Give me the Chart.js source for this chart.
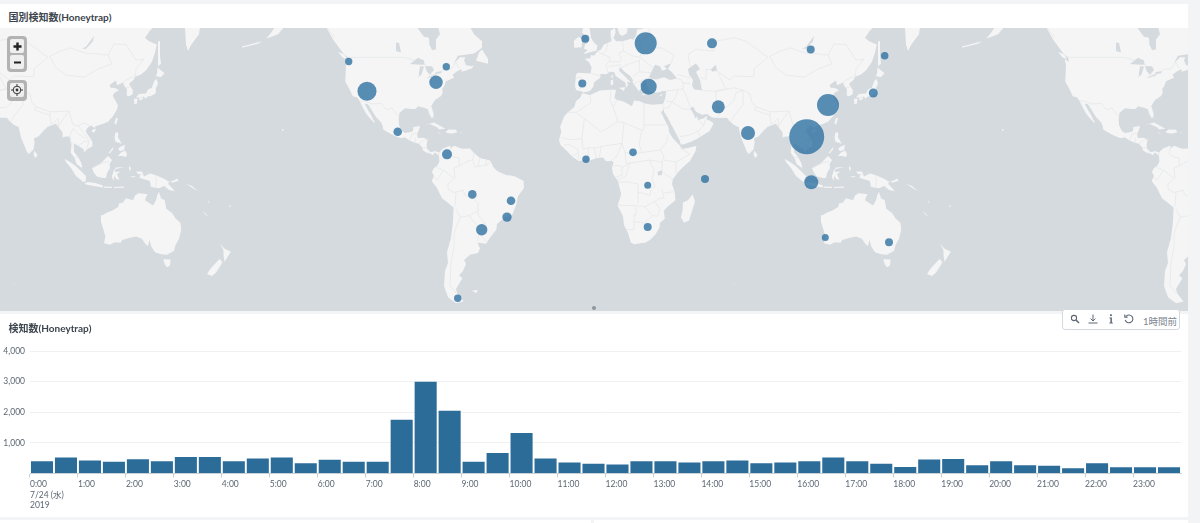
<!DOCTYPE html>
<html lang="ja">
<head>
<meta charset="utf-8">
<title>Honeytrap</title>
<script src="https://cdn.jsdelivr.net/npm/chart.js@4/dist/chart.umd.min.js"></script>
<style>
  html, body { margin: 0; padding: 0; width: 1200px; height: 523px; overflow: hidden; background: #f2f4f5; }
  body { position: relative; font-family: Lato, "Noto Sans CJK JP", sans-serif; color: #3c444d; }
  .panel { position: absolute; background: #fff; }
  .title { position: absolute; left: 8.5px; font-size: 10px; font-weight: 700; line-height: 14px; color: #3c444d; white-space: nowrap; }
  canvas { position: absolute; display: block; }
  .mapctl { position: absolute; left: 7px; width: 20px; box-sizing: border-box; border: 3px solid #b3b3b3; border-radius: 4px; background: #b3b3b3; }
  .mapctl div { height: 14px; margin-bottom: 2px; background: #efefef; border-radius: 2px; display: flex; align-items: center; justify-content: center; }
  .mapctl div:last-child { margin-bottom: 0; }
  #centerDot { position: absolute; left: 592px; top: 305.5px; width: 4px; height: 4px; border-radius: 50%; background: #8f979e; }
  #toolbar { position: absolute; left: 1062px; top: 309px; width: 118px; height: 21px; box-sizing: border-box; background: #fff; border: 1px solid #d3d9de; border-radius: 3px; }
  #toolbar svg { position: absolute; top: 3.5px; }
  #toolbar span { position: absolute; left: 80px; top: 5px; font-size: 9.5px; line-height: 13px; color: #7c8791; white-space: nowrap; }
</style>
</head>
<body>
<div class="panel" style="left:0;top:4px;width:1188px;height:24px"></div>
<div class="title" style="top:10px">国別検知数(Honeytrap)</div>
<canvas id="mapChart" width="1188" height="283" style="left:0;top:28px"></canvas>
<div class="panel" style="left:0;top:314px;width:1188px;height:203px"></div>
<div class="panel" style="left:0;top:520px;width:591px;height:3px"></div>
<div class="panel" style="left:594px;top:520px;width:594px;height:3px"></div>
<canvas id="barChart" width="1188" height="203" style="left:0;top:314px"></canvas>
<div class="title" style="top:321px">検知数(Honeytrap)</div>

<div class="mapctl" style="top:36px;height:36px">
  <div><svg width="9" height="9"><path d="M3.3 0.5h2.4v2.8h2.8v2.4H5.7v2.8H3.3V5.7H0.5V3.3h2.8z" fill="#222"/></svg></div>
  <div><svg width="9" height="9"><rect x="1" y="3.5" width="7" height="2" fill="#222"/></svg></div>
</div>
<div class="mapctl" style="top:80px;height:21px">
  <div><svg width="12" height="12" fill="none" stroke="#333"><circle cx="6" cy="6" r="3.8"/><circle cx="6" cy="6" r="1.4" fill="#333" stroke="none"/><path d="M6 0v2M6 10v2M0 6h2M10 6h2"/></svg></div>
</div>
<div id="centerDot"></div>
<div id="toolbar">
  <svg style="left:7px" width="10" height="10" fill="none" stroke="#5c6773" stroke-width="1.1"><circle cx="4" cy="4" r="2.6"/><path d="M6 6l3 3" stroke-width="1.5"/></svg>
  <svg style="left:25px" width="10" height="10" fill="none" stroke="#5c6773" stroke-width="1"><path d="M5 0.5v6M2.6 4.6L5 7l2.4-2.4M0.5 9h9"/></svg>
  <svg style="left:42.5px" width="10" height="10" fill="#5c6773"><rect x="4" y="0.3" width="1.8" height="1.8"/><path d="M3.5 3.4h2.4v5h.9v1.1H3.4V8.4h1V4.5h-.9z"/></svg>
  <svg style="left:60.5px" width="10" height="10" fill="none" stroke="#5c6773" stroke-width="1.1"><path d="M1.8 2.6a3.9 3.9 0 1 1-.6 3.2"/><path d="M0.8 0.5v2.8h2.8"/></svg>
  <span>1時間前</span>
</div>

<script>
// Detections per half hour
const timeLabels = [
  ['0:00', '7/24 (水)', '2019'], '', '1:00', '', '2:00', '', '3:00', '', '4:00', '', '5:00', '',
  '6:00', '', '7:00', '', '8:00', '', '9:00', '', '10:00', '', '11:00', '', '12:00', '', '13:00', '',
  '14:00', '', '15:00', '', '16:00', '', '17:00', '', '18:00', '', '19:00', '', '20:00', '', '21:00', '',
  '22:00', '', '23:00', ''
];
const detections = [
  400, 520, 425, 380, 465, 400, 540, 540, 400, 490, 520, 335,
  445, 380, 380, 1755, 3000, 2050, 380, 670, 1320, 490, 360, 315,
  295, 400, 400, 360, 400, 425, 335, 360, 400, 520, 400, 315,
  215, 455, 475, 270, 400, 270, 250, 175, 335, 205, 205, 205
];
const yMax = 4000;
const yStep = 1000;

// Detection sources on the map
const sourceLons = [106.35, 117, 25.85, 27.35, 62.15, 77, 108.65, -4.35, 59, 108.35, 145.35, 139.65, -5.85, -4, 19.5, 26.85, 55.5, 26.85, 115.65, 147.5,
  -122.65, -113.5, -79, -73.85, -98.15, -73.5, -60.85, -41.5, -43.5, -56.15, -68.15];
const sourceLats = [16.4, 30.9, 53.35, 38.4, 30.1, 18.2, -6.1, 54.7, 53.35, 51.5, 49.5, 35.9, 39.6, 5.35, 8.8, -7.6, -4.5, -27.4, -31.9, -33.95,
  47.6, 36.6, 40.1, 45.8, 18.8, 7.8, -12.1, -15.2, -22.9, -28.6, -53.8];
const sourceRadii = [17.5, 11, 11, 8, 6.5, 7, 7, 4, 5, 4, 3.8, 4.5, 4, 3.7, 3.8, 3.5, 4, 4, 3.5, 4,
  3.7, 9.5, 6.7, 3.7, 4.3, 5, 4.3, 4.3, 4.7, 5.7, 3.7];

// Coastlines as [lon, lat]
const northAmerica = [[-135,62],[-135,59],[-133,57],[-130.5,54.5],[-128,52.5],[-125,50],[-123,49],[-122.6,47.5],[-124.7,48.4],[-124,46.3],[-124.2,43],[-124.4,40.4],[-122.5,37.8],[-120.6,34.6],[-118.4,34],[-117.1,32.5],[-116,30.5],[-114.8,28.5],[-114,27.2],[-112,25],[-110,23],[-109.5,23.2],[-110.6,24.8],[-111.5,26.5],[-113,28.7],[-114.7,31.5],[-113,31.2],[-111,28.5],[-109,25.6],[-106.5,23.2],[-105.5,21],[-105.5,20],[-104,19],[-101.5,17.7],[-99.5,16.7],[-96.5,15.7],[-94.5,16.2],[-92.3,14.6],[-90,13.7],[-87.6,13],[-85.7,11],[-85.7,10],[-83.5,8.5],[-82,8.2],[-80.5,7.3],[-79.6,8.9],[-78,7.5],[-77.5,8.7],[-79.5,9.5],[-81.5,8.9],[-83.5,10.5],[-83.7,12.5],[-83.2,15],[-85,15.9],[-88,15.8],[-88.5,17.5],[-87.8,19],[-87,21.5],[-90.3,21],[-90.6,19],[-92,18.6],[-94.5,18.2],[-96,19],[-97.5,22],[-97.7,25],[-97.2,27.5],[-94.5,29.5],[-91,29.2],[-89.2,29.2],[-88,30.4],[-85,29.7],[-83,29],[-82.6,27.5],[-81.2,25.2],[-80.2,25.5],[-80.3,27.5],[-81.4,30.5],[-79.5,33],[-76.5,34.7],[-75.6,36],[-76,37.5],[-75,38.5],[-74,40.5],[-72,41.2],[-70,41.8],[-70.7,43],[-68,44.4],[-66,44.9],[-66.2,44],[-64,44.5],[-61,45.3],[-60,46.5],[-61,46],[-64,46.3],[-65,48],[-64.3,49],[-67,49],[-70,47],[-68,49.5],[-60,50.2],[-56,52],[-56,54],[-60,56],[-62,58],[-65,60],[-70,60],[-78,62],[-78,58],[-77,56],[-79,54.5],[-79,51.5],[-81,51.3],[-82.3,53],[-82.5,55],[-85,55.3],[-88,57.5],[-90,59],[-95,60],[-100,65],[-135,65]];
const southAmerica = [[-77.5,8.7],[-75.5,10.7],[-72,12],[-71.5,10.8],[-70,12],[-66,10.6],[-62,10.7],[-60,8.5],[-57,6],[-52,4.8],[-50,1],[-48,-0.7],[-44,-2.5],[-40,-3],[-35.2,-5.5],[-35,-9],[-38,-13],[-39,-17.5],[-41,-22],[-44.5,-23],[-48.5,-26],[-48.8,-28.5],[-52,-32],[-54,-34.5],[-58.3,-34],[-57,-36.5],[-58,-38.3],[-62,-39],[-65,-41],[-64,-42.5],[-65.5,-45],[-67.5,-46.5],[-65.8,-47.5],[-69,-51],[-68.3,-52.5],[-65.2,-54.8],[-69,-55.3],[-73,-53.5],[-75,-50],[-74.5,-45],[-73,-42],[-73.5,-38],[-71.5,-32],[-70.5,-25],[-70.2,-18.5],[-72,-17],[-76,-14],[-78.5,-9],[-81.2,-5.5],[-80,-3],[-81,-1],[-80,1],[-78.5,2],[-77.3,4],[-77.5,7],[-78,8]];
const africa = [[-5.9,35.8],[-2,35.1],[3,36.9],[10,37.3],[11,36.9],[10.2,34],[11,33.2],[15,32.3],[19,30.3],[20,32.8],[23,32.5],[25,31.6],[29,31],[32.3,31.2],[34.2,31.3],[34.9,29.5],[34,27.8],[33,28.5],[32.5,30],[33.5,27.8],[35.5,24],[37.2,21],[37.5,18.7],[39.5,15.5],[43,12],[43.3,11.4],[44.5,10.5],[51.2,11.9],[50.8,9.5],[48,4.5],[44,1],[41.5,-1.7],[39.5,-4.5],[39,-7],[40.4,-11],[40.7,-15],[37,-17.8],[34.9,-20],[35.4,-23.7],[33,-25.5],[32.8,-27.5],[30.8,-30.5],[28,-33],[25.7,-34],[20,-34.8],[18.4,-34],[17,-30],[15,-26.5],[14.5,-22.5],[11.8,-17.5],[13.6,-12],[12,-5.5],[9.5,-2],[9,1],[9.8,4],[8.5,4.5],[6,4.4],[4.5,6.3],[1,5.9],[-2,4.8],[-4.5,5.2],[-7.5,4.4],[-11,6.8],[-13.5,9.5],[-16.7,12.4],[-17.5,14.7],[-16.3,19],[-17,21],[-14.8,26],[-13,27.7],[-9.8,30],[-9,32.5],[-6.8,34]];
const eurasia = [[-9,43],[-9.5,38.7],[-8.9,37],[-6.3,36.6],[-5.4,36.1],[-2,36.7],[-0.3,38.5],[0,40],[3.2,41.9],[3.2,43.2],[6,43.1],[8,44],[10,43.9],[11,42.4],[14,40.9],[15.7,40],[16,38],[17,39],[16.6,40.3],[18.4,40],[16,41.9],[13.7,43.6],[12.4,44.5],[13,45.7],[14,45],[15.3,44],[18,42.6],[19.5,41],[19.3,40],[21,38.3],[22.5,36.5],[23.2,37.5],[24,38],[23,39.5],[24,40.8],[26,40.8],[26.2,40.2],[26.5,38.5],[27.5,37],[29.5,36.2],[32,36.1],[34.5,36.7],[36,36.7],[35.8,34.5],[34.9,31.8],[34.3,31.3],[34.9,29.5],[35,28],[37,25],[39,21.5],[41,18],[42.7,15],[43.4,12.7],[45,12.8],[48.5,14],[52,15.7],[55,17.5],[57.7,19],[59.8,22.5],[58.5,23.7],[56.5,24.5],[56.3,26.2],[55,25],[52,24.2],[51.5,26],[50.8,24.8],[50,26.6],[48,29.5],[49.5,30.2],[51,28],[54,26.6],[56.5,27],[59,25.4],[62,25.2],[66.5,25.3],[67.5,24],[70,22],[72.3,21],[72.8,19],[73.5,16],[75,12.5],[76.5,9],[77.5,8],[79.8,10.3],[80.3,13.5],[80,15.5],[82.3,16.6],[85,19.5],[87,21.3],[89,21.8],[91,22.5],[92.3,20.8],[94.3,18.5],[94.3,16],[96,16.5],[97.7,16.5],[98.6,13],[98.4,8.5],[100.3,6],[101.3,3],[103.5,1.3],[104.2,1.5],[103.4,4],[102.2,6.2],[100,9],[99.9,13.2],[101,12.7],[102.8,11.5],[104.8,10.4],[105,8.7],[106.7,10.5],[109.2,11.8],[109.2,14],[107.5,16.5],[105.8,19],[106.7,20.7],[108.5,21.7],[110.4,20.5],[110.7,21.4],[114,22.3],[117,23.5],[119.6,26],[121.5,29],[122,30.7],[120.9,32.5],[119.3,34.8],[120.3,36],[122.5,37],[120.8,37.8],[118,38.1],[118,39.2],[121,40.8],[121.5,39],[124.5,40],[125.2,38.7],[126.5,37.5],[126.3,35],[127.5,34.6],[129.3,35.3],[129.4,37],[127.5,39.5],[129.7,41],[130.7,42.3],[133,42.8],[136,44.5],[139,47.5],[140.5,50.5],[141.4,53],[137.5,54],[135.5,55],[138,57],[142,59],[150,59.5],[155,59.5],[155.6,57],[156,53],[157,51],[158.7,53],[162.5,56],[163,58],[170,60],[180,64],[180,70],[28,70],[5,62],[5,59],[7,58],[10.5,59],[11.5,58],[12.7,56],[14.3,55.5],[16.5,56.3],[16.8,58],[18,60],[23,60],[30,60],[28,59.5],[23.5,59.2],[24.3,57.5],[21.5,57.3],[21,55.5],[19.5,54.5],[18.5,54.7],[14.3,54],[11,54],[9.8,55],[10.8,56.5],[10.5,57.7],[8.3,57],[8.3,55.5],[8.8,54],[7,53.5],[5,53],[3.5,51.5],[1.8,50.9],[0,49.5],[-1.5,49.7],[-1.7,48.7],[-4.7,48.5],[-2.5,47.3],[-1.2,45.5],[-1.7,43.4],[-8,43.7]];
const australia = [[113.5,-22],[114.2,-22],[116.8,-20.6],[119,-20],[122.2,-18],[122.5,-16.5],[124.5,-16],[126,-14],[129.5,-14.9],[130.7,-12.4],[132.5,-11.5],[136.7,-12],[136,-13.5],[135.5,-15],[139.5,-17.5],[141,-15],[141.7,-12.5],[142.5,-10.8],[143.5,-14],[145.3,-15],[146.2,-19],[149,-21],[150.8,-23.5],[153.2,-25.5],[153.6,-28.5],[152.5,-32.5],[150.8,-35],[150,-37.5],[146.5,-39],[143.5,-38.8],[140.5,-38],[138.5,-35.5],[137.8,-33],[137,-35.5],[135.8,-34.8],[134,-32.5],[131,-31.5],[127,-32.3],[124,-33],[123.5,-34],[120,-34],[118,-35],[115,-34.3],[115.7,-31.5],[114.2,-27],[113.5,-25]];
const islands = [
  [[-5.5,50],[1.3,51.2],[1.7,52.7],[0,53.5],[-1.5,55],[-2,57],[-3,58.6],[-5,58.5],[-6,56.5],[-3.2,55],[-3,53.5],[-4.5,53],[-5,51.7],[-3.2,51.3]],
  [[-10,52],[-6.2,52.2],[-6,54.5],[-7.5,55.3],[-10,54.2]],
  [[12.5,38],[15.5,38.2],[15,36.7]], [[8.3,39],[9.6,39.2],[9.5,41.2],[8.3,40.8]], [[8.7,41.6],[9.5,42],[9.4,43],[8.7,42.5]],
  [[23.6,35.5],[26.2,35.3],[24.8,34.9]], [[32.4,34.8],[34.5,35.6],[33.8,34.8]],
  [[49.3,-12],[50.5,-15.5],[47.5,-24.5],[45,-25.5],[43.5,-23],[44.3,-19.5],[44.5,-16],[47,-15]],
  [[80,9.7],[81.8,7.5],[80.7,6],[79.8,7.5]],
  [[131,34],[132.5,35.5],[136,35.7],[137,37.3],[139,38],[140,40.5],[141.3,41.4],[142,39.5],[141,38],[140.8,35.7],[138.5,34.7],[136.8,34.5],[135.7,33.5],[135,34.5],[133,34]],
  [[130,33.5],[131.8,33.5],[131.3,31.3],[130.2,31.3]], [[132.5,33.8],[134.6,34.2],[134.2,33.3],[133,32.8]],
  [[140.2,41.5],[141.5,43.3],[141.8,45.5],[145.3,43.5],[143.3,42],[141,42.5]],
  [[142,46],[143.5,46.8],[143,49.5],[143,54],[142,54],[142,50]],
  [[120.2,23],[121,22],[122,25],[121,25.2]], [[108.7,19],[110,18.3],[111,19.8],[110,20.2]],
  [[120.3,16],[120.7,18.5],[122.2,18.3],[122,16],[124,13],[122.5,13.5],[120.7,14]],
  [[122,7],[124,7],[126,6.5],[126.5,8],[125.5,9.7],[123.5,8.7]], [[122,10.5],[123.2,11.5],[125.5,12.5],[125,10],[123,9.5]],
  [[117.2,8.5],[119.5,11.3],[119.7,10.5],[118,8.5]],
  [[109,1],[111,1.8],[113,3],[115.5,5.5],[117,7],[119,5],[117.8,3],[118,1],[116.5,-1.5],[116,-4],[114.5,-4],[111.5,-3.2],[110,-1.5]],
  [[95.3,5.6],[98,4],[100.5,2.3],[103.5,-0.5],[106,-3],[105.8,-5.8],[104.5,-5.8],[101,-3],[98.5,1],[96,4]],
  [[105.2,-6.8],[106.8,-6],[110.5,-6.5],[114.5,-7.7],[114.5,-8.7],[110,-8],[106.5,-7.4]],
  [[115,-8.2],[119,-8.3],[119,-9],[115,-8.8]], [[120,-8.4],[125,-8.2],[125,-8.8],[120,-9]], [[123.5,-10.3],[127,-8.4],[125,-9.5]],
  [[119.5,-5.5],[120.4,-2.8],[121,-4.5],[122.7,-4.8],[121.5,-2],[123.3,-0.9],[120.3,-0.9],[120.8,1.2],[125,1.5],[120,0.2],[119,-3]],
  [[127.5,2],[128.5,1],[128,-0.8],[127.5,0.5]], [[127.8,-3.2],[130.8,-3],[130,-3.7]],
  [[131,-0.8],[134,-0.8],[135,-3.3],[138,-1.7],[141,-2.6],[145,-4.3],[147.8,-6],[147,-6.8],[150.5,-10.5],[147.5,-10],[145,-7.8],[143,-9],[141,-9],[138.5,-8.3],[138,-5.5],[133,-4],[132.8,-2.8],[134,-2.2],[132,-2]],
  [[148.5,-5.7],[152,-4.2],[152,-5.5],[149,-6.3]], [[156,-6.8],[159,-8],[162,-10.5],[160,-9.5]],
  [[164,-20],[167,-22.3],[166,-22]], [[177.3,-17.5],[178.6,-17.6],[178,-18.3]], [[167,-15],[168,-16],[167.3,-16]],
  [[144.7,-40.7],[148.3,-40.8],[148,-43],[146.5,-43.6],[145.3,-42.5]],
  [[172.8,-34.5],[175.5,-36.7],[178.4,-37.7],[177,-39.5],[175.3,-41.6],[174.8,-39.5],[174.7,-37]],
  [[172.7,-40.6],[174.2,-41.7],[172.7,-43.7],[171,-45.5],[169,-46.7],[166.5,-46],[168.3,-44.1],[171,-42]],
  [[-61,-51.5],[-58,-51.3],[-59,-52.3]],
  [[-84.8,22],[-80,23.1],[-75,20.6],[-74.3,20.2],[-77.5,19.9],[-78,20.7],[-82,22.4]],
  [[-74.4,18.5],[-72.7,19.9],[-69,19.7],[-68.4,18.6],[-71.5,17.8]], [[-78.3,18.4],[-76.3,18.1],[-77.5,17.9]], [[-67.2,18.4],[-65.7,18.3],[-66,18]],
  [[-59,47.8],[-53,46.8],[-53,48.5],[-56,51.5],[-57.5,50.5]], [[-128,50.8],[-125,50],[-123.4,48.4],[-125.5,48.8]],
  [[-164,54.7],[-158,56],[-154,58.5],[-158,59],[-162,56]], [[-176,52],[-168,53.2],[-166,54],[-168,53.7],[-176,52.4]],
  [[-156,19],[-155,19.7],[-155.9,20.2]], [[-158.2,21.3],[-157.7,21.4],[-157.9,21.6]], [[70,-49.2],[70.5,-49],[70,-49.6]]
];
// Inland water painted back over the land
const inlandWater = [
  [[-92,46.7],[-88,48.8],[-85,47.9],[-84.7,46.6],[-87,46.5]], [[-87.8,42],[-87,46],[-85,45.9],[-86.3,43]],
  [[-84.5,46],[-81,46],[-80,44.6],[-82,43],[-83.5,44]], [[-83.4,41.7],[-79,42.6],[-79,43],[-83,42.2]], [[-79.7,43.3],[-76.3,43.5],[-76.3,44.2],[-79,43.9]],
  [[-99,51],[-96.5,50.5],[-97.5,53.5],[-99,53.5]],
  [[28,41.5],[31,41.2],[35,42],[38,41],[41.5,41.5],[39,43.8],[37,45],[38.5,47],[35,46],[36.5,45],[34,44.4],[33,46],[30.5,46.5],[28.7,44],[27.7,42.5]],
  [[47,45],[51,47],[53,45],[51,44],[53,41],[54,37],[50,37.3],[49,39],[49.5,41],[47.5,43]], [[58.5,45],[61,46.5],[61.5,44.5],[59,44]],
  [[104,51.7],[106,52.3],[110,55.5],[109.5,54],[106,51.7]], [[31.7,-1],[34,0],[34,-2.5],[32,-2.7]]
];
const landmasses = [northAmerica, southAmerica, africa, eurasia, australia, ...islands];

// Country borders as [lon, lat] polylines
const borders = [
  [[-123,49],[-95,49],[-89.5,48],[-84.5,46.5],[-82.5,45],[-82.5,43],[-79,42.9],[-76.5,44],[-74.7,45],[-71.5,45],[-69,47.3],[-67.8,45.7],[-67,44.9]],
  [[-141,70],[-141,60],[-135,59],[-130,55]],
  [[-117.1,32.5],[-114.8,32.6],[-111,31.3],[-108,31.5],[-106.5,31.7],[-104.5,29.5],[-103,29],[-101,29.7],[-99.5,27.5],[-97.2,25.9]],
  [[-92.2,14.6],[-91,17.8],[-89.1,17.9],[-88.3,18.4]], [[-89.2,14],[-89.2,15.9]], [[-87.5,13],[-84.8,14.8],[-83.2,15]], [[-85.7,11],[-83.7,11]], [[-83,8.3],[-82.8,9.5]],
  [[-71.5,12],[-72.5,8],[-70,6.5],[-67.5,6],[-67.3,2],[-70,1],[-69.5,-4.2]], [[-77.3,8.7],[-77.8,7.3]], [[-78.8,1.4],[-75.3,0],[-74,-1],[-70,-4.2]],
  [[-80.3,-3.4],[-78.5,-5],[-75.3,-0.1]], [[-70,-4.2],[-73,-7],[-73,-9.5],[-70.5,-11],[-69,-11],[-69.5,-17.5],[-70.3,-18.3]],
  [[-69,-11],[-65.5,-10],[-64.5,-12.5],[-60.5,-13.7],[-58,-16.5],[-58,-20],[-57.8,-22]], [[-58,-20],[-62.5,-22.2],[-67,-23],[-69,-19]],
  [[-67,-23],[-70,-30],[-70,-36],[-71.5,-42],[-72,-50],[-69,-52.2]], [[-62.5,-22.2],[-58,-27.2],[-54.6,-25.6]], [[-57.8,-22],[-54.6,-25.6]],
  [[-54.6,-25.6],[-53.8,-27.3],[-57.6,-30.2]], [[-58.2,-33.5],[-57.6,-30.2],[-53.4,-33.7]], [[-60,8.5],[-60.7,5.2],[-64,4],[-67.3,2]],
  [[-60.7,5.2],[-59.7,1.5],[-56.5,2],[-54,2.3],[-51.7,4]], [[-57,6],[-58,2]], [[-54,5.8],[-54,2.3]],
  [[-1.7,43.4],[3.2,42.5]], [[1.8,50.9],[4,50],[8.2,49],[7.5,47.6],[6,46.3],[7,44],[7.5,43.8]], [[14.3,54],[14.8,51],[12.2,50.3],[13.8,48.7],[13,47.5],[9.6,47.5],[7.5,47.6]],
  [[7,53.5],[6,51],[4,50]], [[8.8,54.9],[9.8,54.8]], [[14.8,51],[18.8,49.5],[22.8,49],[24,50.8],[23.5,54],[19.5,54.5]], [[23.5,54],[28,56],[27.5,57.5],[28,59.5]],
  [[24,50.8],[31,52],[34,52],[40,49.7],[38.5,47]], [[23.5,54],[26,55.5],[28,56],[31,55],[31,52]], [[22.8,49],[29.5,45.5]], [[13.7,45.5],[16.5,46.5],[22.8,48]],
  [[19.5,42],[22.5,44],[22.8,48]], [[22.5,44],[28.5,43.7]], [[20,39.7],[26,41.5],[28,42]], [[7.5,45.9],[13.7,46.5]], [[-8.8,42],[-6.5,42],[-7,37.2]],
  [[-2,35.1],[-1.5,32],[-8.7,27.7],[-13,27.7]], [[-8.7,27.3],[-4.8,25],[-6,15.5],[-12,15],[-16.5,16]], [[-4.8,25],[3.2,19],[4.2,19],[12,23.5],[9.5,30],[8,33],[8.5,37]],
  [[11.5,33],[9.5,30]], [[12,23.5],[15,23],[24,19.5],[25,20],[25,31.6]], [[25,22],[37,22]], [[24,19.5],[22.5,13],[24,8.7]], [[3.6,11.7],[14,13.2],[15,23]],
  [[14,13.2],[15.5,9],[18.7,8],[24,8.7]], [[8.5,4.5],[11.5,7],[14,13.2]], [[2.7,6.3],[3.6,11.7]], [[-6,15.5],[-5.5,10.4],[-3,11],[1,11],[3.6,11.7]], [[-3,5],[-2.8,11]],
  [[1.2,6],[0,11]], [[-7.5,4.4],[-8,10],[-12,12.5],[-15,12.5]], [[-11,6.8],[-8,8.5]], [[15.5,9],[16,3.5],[18.5,3.5],[27.5,5],[34,4]], [[24,8.7],[33,10],[35,7],[34,4]],
  [[37,17.5],[36.5,14.3],[33,10]], [[35,5],[41,4],[48,8],[43,11]], [[41,-1.7],[41,4]], [[39.5,-4.6],[34,-1]], [[34,4],[34,-1]],
  [[27.5,5],[30,0],[29,-4.5],[30.5,-8.2],[28.5,-9],[28,-12.5],[22,-11],[22,-7],[17,-6],[12.5,-6]], [[40.4,-10.7],[34.8,-11.5]], [[34,-9.5],[35,-14],[33,-14],[30.5,-15.5],[25.5,-18]],
  [[11.8,-17.3],[23.3,-17.7],[25.5,-18]], [[22,-11],[22,-13],[22,-16.5]], [[20,-22],[20,-28.5],[16.5,-28.5]], [[21,-18.3],[21,-22],[20,-22]], [[20,-25],[25,-25.5],[29.3,-22.3],[32,-22.3]],
  [[30.5,-15.5],[32.8,-19],[32,-22.3]], [[25.5,-18],[29.3,-22.3]], [[9.8,2.2],[13,2.2],[14,1.3],[18,3.5]], [[11,-3.5],[14,-2.5],[14,1.3]], [[12,-5],[16,-3],[18,3.5]],
  [[36,36.7],[42,37.2]], [[42,37.2],[44.5,37.5],[44.5,39.5],[43.5,41.2],[41.5,41.5]], [[44.5,37.5],[46,35],[48,30]], [[42,37.2],[41,34.5],[39,32.2],[36,32.5]],
  [[34.9,29.4],[37.5,30],[39,32.2],[44.5,29.2],[48,29]], [[43,16.5],[47,17],[52,19],[55,22],[52,24]], [[55,22],[56,24.8]], [[52,19],[53,16.6]],
  [[61,36.6],[61,31.5],[63,27],[61.7,25.2]], [[61,29.8],[66,29.7],[70,33],[71,36],[74.5,37]], [[61,36.6],[65,37.3],[70,38],[74.5,37]], [[54,37],[61,36.6]],
  [[53,42],[56,41.3],[56,45],[61,44.5],[68,41],[70,42.5],[80,42.2]], [[61,36.6],[66,37.5],[62,43.5]], [[48,46],[47,50],[51,51.5],[60,51],[61,54],[70,55],[76,54],[87,49]],
  [[41.5,43],[48,41.8]], [[44,40],[48,39.5]], [[80,42.2],[80,45],[87,49]], [[87.8,49.2],[92,50.7],[98,52],[106,50.3],[113,50],[117,49.7],[119,46.8],[112,45],[105,42],[96,42.8],[91,45.5],[87.8,49.2]],
  [[117,49.7],[120,53.2],[126,53],[131,48],[135,48.4],[131,45],[130.7,42.3]], [[124.5,40],[128,41.8],[130.7,42.3]], [[125.5,38],[128.5,38.5]],
  [[74.5,37],[78,35.5],[79,32],[81,30],[88,28],[92,28],[97.5,28.3],[98.5,25],[99.5,22],[102,21.5],[105,23],[108,21.6]], [[81,30],[80.3,28.7],[88,26.4],[88,28]],
  [[74.5,37],[74.5,31],[70,26],[68.5,23.7]], [[88,26.4],[88.5,22],[92,25],[92.3,21]], [[97.5,28.3],[94,24],[92.6,21.5]], [[99.5,20.3],[98,17],[99,11]],
  [[99.5,20.3],[102,18],[105.5,15.5]], [[102,12],[105.5,14.3],[107.5,14.5],[106.5,10.8]], [[102,21.5],[105,18],[107.5,14.5]], [[100.5,6.5],[102,6]],
  [[109.6,1.7],[115,3.8],[117.5,4.2]], [[141,-2.6],[141,-9]]
];

// Web Mercator northing in radians
function mercator(lat) {
  return Math.log(Math.tan(Math.PI / 4 + lat * Math.PI / 360));
}

const chartFont = { family: "Lato, 'Noto Sans CJK JP', sans-serif", size: 8.5 };

// Paints the basemap under the bubbles; the world repeats every 360 degrees
const basemap = {
  id: 'basemap',
  beforeDatasetsDraw(chart) {
    const { ctx, scales: { x, y } } = chart;
    const trace = (points, shift) => {
      ctx.beginPath();
      points.forEach(([lon, lat], i) => {
        const px = x.getPixelForValue(lon + shift);
        const py = y.getPixelForValue(mercator(lat));
        if (i === 0) ctx.moveTo(px, py); else ctx.lineTo(px, py);
      });
    };
    ctx.save();
    ctx.fillStyle = '#d5dadf';
    ctx.fillRect(0, 0, chart.width, chart.height);
    [-360, 0, 360].forEach(shift => {
      ctx.fillStyle = '#f5f5f5';
      landmasses.forEach(points => { trace(points, shift); ctx.closePath(); ctx.fill(); });
      ctx.strokeStyle = '#e6e7e8';
      ctx.lineWidth = 0.8;
      borders.forEach(points => { trace(points, shift); ctx.stroke(); });
      ctx.fillStyle = '#d5dadf';
      inlandWater.forEach(points => { trace(points, shift); ctx.closePath(); ctx.fill(); });
    });
    ctx.restore();
  }
};

new Chart(document.getElementById('mapChart'), {
  type: 'bubble',
  plugins: [basemap],
  data: {
    datasets: [{
      data: sourceLons.map((lon, i) => ({ x: lon, y: mercator(sourceLats[i]), r: sourceRadii[i] })),
      backgroundColor: 'rgba(47, 114, 163, 0.8)',
      borderWidth: 0,
      clip: false
    }]
  },
  options: {
    responsive: false,
    animation: false,
    layout: { autoPadding: false, padding: 0 },
    plugins: { legend: { display: false }, tooltip: { enabled: false } },
    scales: {
      x: { type: 'linear', display: false, min: -297, max: 297 },
      y: { type: 'linear', display: false, min: -1.23, max: 1.239 }
    }
  }
});

new Chart(document.getElementById('barChart'), {
  type: 'bar',
  data: {
    labels: timeLabels,
    datasets: [{
      data: detections,
      backgroundColor: '#2b6c99',
      barPercentage: 0.92,
      categoryPercentage: 1
    }]
  },
  options: {
    responsive: false,
    animation: false,
    layout: { padding: { top: 37, right: 7 } },
    plugins: { legend: { display: false }, tooltip: { enabled: false } },
    scales: {
      x: {
        afterFit(scale) { scale.height = 43.5; },
        grid: {
          offset: true,
          drawOnChartArea: false,
          tickLength: 4,
          color: ctx => (ctx.index % 2 === 0 && ctx.index < timeLabels.length ? '#c8d0d8' : 'transparent')
        },
        border: { color: '#c8d0d8' },
        ticks: {
          autoSkip: false,
          maxRotation: 0,
          align: 'start',
          labelOffset: -12,
          padding: 2,
          color: '#5c6773',
          font: { ...chartFont, lineHeight: 1.2 }
        }
      },
      y: {
        min: 0,
        max: yMax,
        afterFit(scale) { scale.width = 30; },
        grid: { color: '#eef0f2', drawTicks: false },
        border: { display: false },
        ticks: {
          stepSize: yStep,
          padding: 5,
          color: '#5c6773',
          font: chartFont,
          callback: v => (v === 0 ? '' : v.toLocaleString('en-US'))
        }
      }
    }
  }
});
</script>
</body>
</html>
